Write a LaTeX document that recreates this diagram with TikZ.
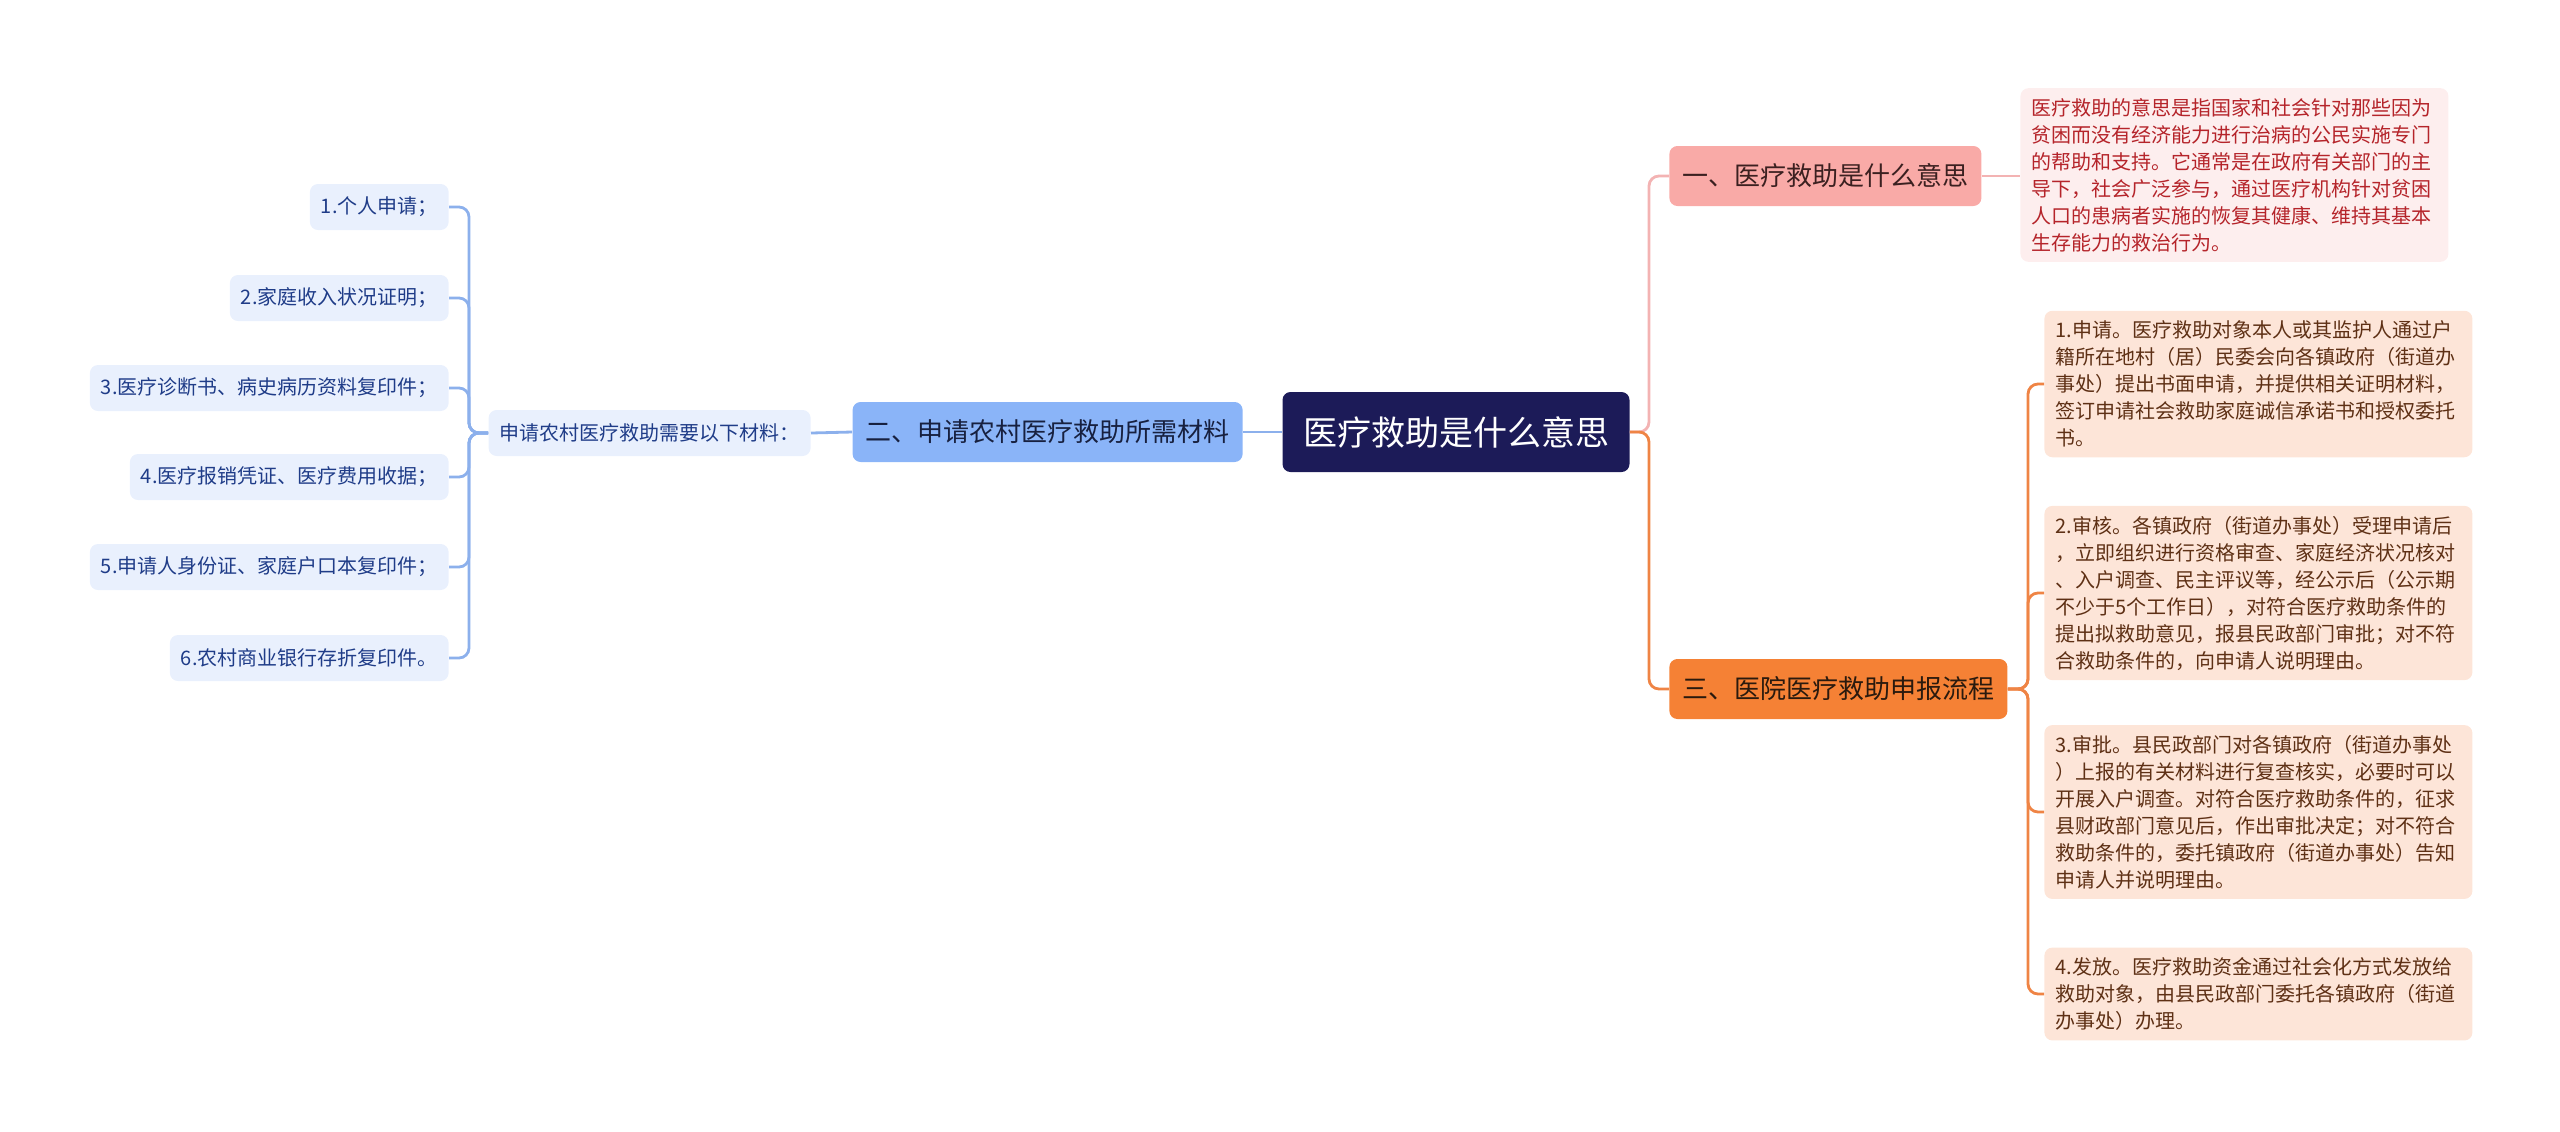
\documentclass[tikz,border=0pt]{standalone}
\usepackage{fontspec}
\setmainfont{Noto Sans CJK SC}
\usepackage{tikz}

\definecolor{rootfill}{RGB}{28,27,88}
\definecolor{bluefill}{RGB}{138,180,248}
\definecolor{bluetext}{RGB}{23,32,63}
\definecolor{leaffill}{RGB}{233,240,253}
\definecolor{leaftext}{RGB}{31,60,136}
\definecolor{blueline}{RGB}{140,176,236}
\definecolor{pinkfill}{RGB}{249,170,167}
\definecolor{pinktext}{RGB}{59,32,32}
\definecolor{pinkline}{RGB}{243,179,179}
\definecolor{notefill}{RGB}{253,238,238}
\definecolor{notetext}{RGB}{181,36,42}
\definecolor{orangefill}{RGB}{245,129,53}
\definecolor{orangetext}{RGB}{42,26,14}
\definecolor{orangeline}{RGB}{239,132,69}
\definecolor{stepfill}{RGB}{253,229,216}
\definecolor{steptext}{RGB}{94,48,21}

\begin{document}
\begin{tikzpicture}[x=0.5pt,y=-0.5pt,
    box/.style={rounded corners=4pt, inner ysep=0pt},
    rootbox/.style={box, fill=rootfill, text=white, minimum width=173.5pt, minimum height=40pt, font=\fontsize{17}{20}\selectfont},
    topic/.style={box, inner xsep=6.5pt, minimum height=30pt, font=\fontsize{13}{16}\selectfont},
    leaf/.style={box, fill=leaffill, text=leaftext, inner xsep=5.5pt, minimum height=23pt, font=\fontsize{10}{12}\selectfont},
    para/.style={rounded corners=4pt, text width=203pt, inner xsep=5.5pt, inner ysep=5pt, align=left, font=\fontsize{10}{13.5}\selectfont},
    link/.style={line width=1.4pt, rounded corners=5pt}]
    \useasboundingbox (0,0) rectangle (2560,1131);

    \node[rootbox] (root) at (1456,432) {医疗救助是什么意思};
    \node[topic, fill=pinkfill, text=pinktext, anchor=west] (one) at (1669,176) {一、医疗救助是什么意思};
    \node[topic, fill=bluefill, text=bluetext, anchor=east] (two) at (1243,432) {二、申请农村医疗救助所需材料};
    \node[topic, fill=orangefill, text=orangetext, anchor=west] (three) at (1669,689) {三、医院医疗救助申报流程};

    \node[para, fill=notefill, text=notetext, anchor=west] (note) at (2020,175) {医疗救助的意思是指国家和社会针对那些因为\\贫困而没有经济能力进行治病的公民实施专门\\的帮助和支持。它通常是在政府有关部门的主\\导下，社会广泛参与，通过医疗机构针对贫困\\人口的患病者实施的恢复其健康、维持其基本\\生存能力的救治行为。};

    \node[leaf, anchor=east] (need) at (811,433) {申请农村医疗救助需要以下材料：};
    \node[leaf, anchor=east] (m1) at (449,207) {1.个人申请；};
    \node[leaf, anchor=east] (m2) at (449,298) {2.家庭收入状况证明；};
    \node[leaf, anchor=east] (m3) at (449,388) {3.医疗诊断书、病史病历资料复印件；};
    \node[leaf, anchor=east] (m4) at (449,477) {4.医疗报销凭证、医疗费用收据；};
    \node[leaf, anchor=east] (m5) at (449,567) {5.申请人身份证、家庭户口本复印件；};
    \node[leaf, anchor=east] (m6) at (449,658) {6.农村商业银行存折复印件。};

    \node[para, fill=stepfill, text=steptext, anchor=west] (s1) at (2044,384) {1.申请。医疗救助对象本人或其监护人通过户\\籍所在地村（居）民委会向各镇政府（街道办\\事处）提出书面申请，并提供相关证明材料，\\签订申请社会救助家庭诚信承诺书和授权委托\\书。};
    \node[para, fill=stepfill, text=steptext, anchor=west] (s2) at (2044,593) {2.审核。各镇政府（街道办事处）受理申请后\\，立即组织进行资格审查、家庭经济状况核对\\、入户调查、民主评议等，经公示后（公示期\\不少于5个工作日），对符合医疗救助条件的\\提出拟救助意见，报县民政部门审批；对不符\\合救助条件的，向申请人说明理由。};
    \node[para, fill=stepfill, text=steptext, anchor=west] (s3) at (2044,812) {3.审批。县民政部门对各镇政府（街道办事处\\）上报的有关材料进行复查核实，必要时可以\\开展入户调查。对符合医疗救助条件的，征求\\县财政部门意见后，作出审批决定；对不符合\\救助条件的，委托镇政府（街道办事处）告知\\申请人并说明理由。};
    \node[para, fill=stepfill, text=steptext, anchor=west] (s4) at (2044,994) {4.发放。医疗救助资金通过社会化方式发放给\\救助对象，由县民政部门委托各镇政府（街道\\办事处）办理。};

    \coordinate (rj) at (1649,432);
    \coordinate (lj) at (469,433);
    \coordinate (sj) at (2028,689);

    \draw[link, pinkline] (root.east) -- (rj) |- (one.west);
    \draw[link, pinkline] (one.east) -- (one.east -| note.west);
    \draw[link, orangeline] (root.east) -- (rj) |- (three.west);
    \foreach \s in {s1,s2,s3,s4}
        \draw[link, orangeline] (three.east) -- (sj) |- (\s.west);
    \draw[link, blueline] (two.east) -- (root.west);
    \draw[link, blueline] (need.east) -- (two.west);
    \foreach \m in {m1,m2,m3,m4,m5,m6}
        \draw[link, blueline] (need.west) -- (lj) |- (\m.east);
\end{tikzpicture}
\end{document}
